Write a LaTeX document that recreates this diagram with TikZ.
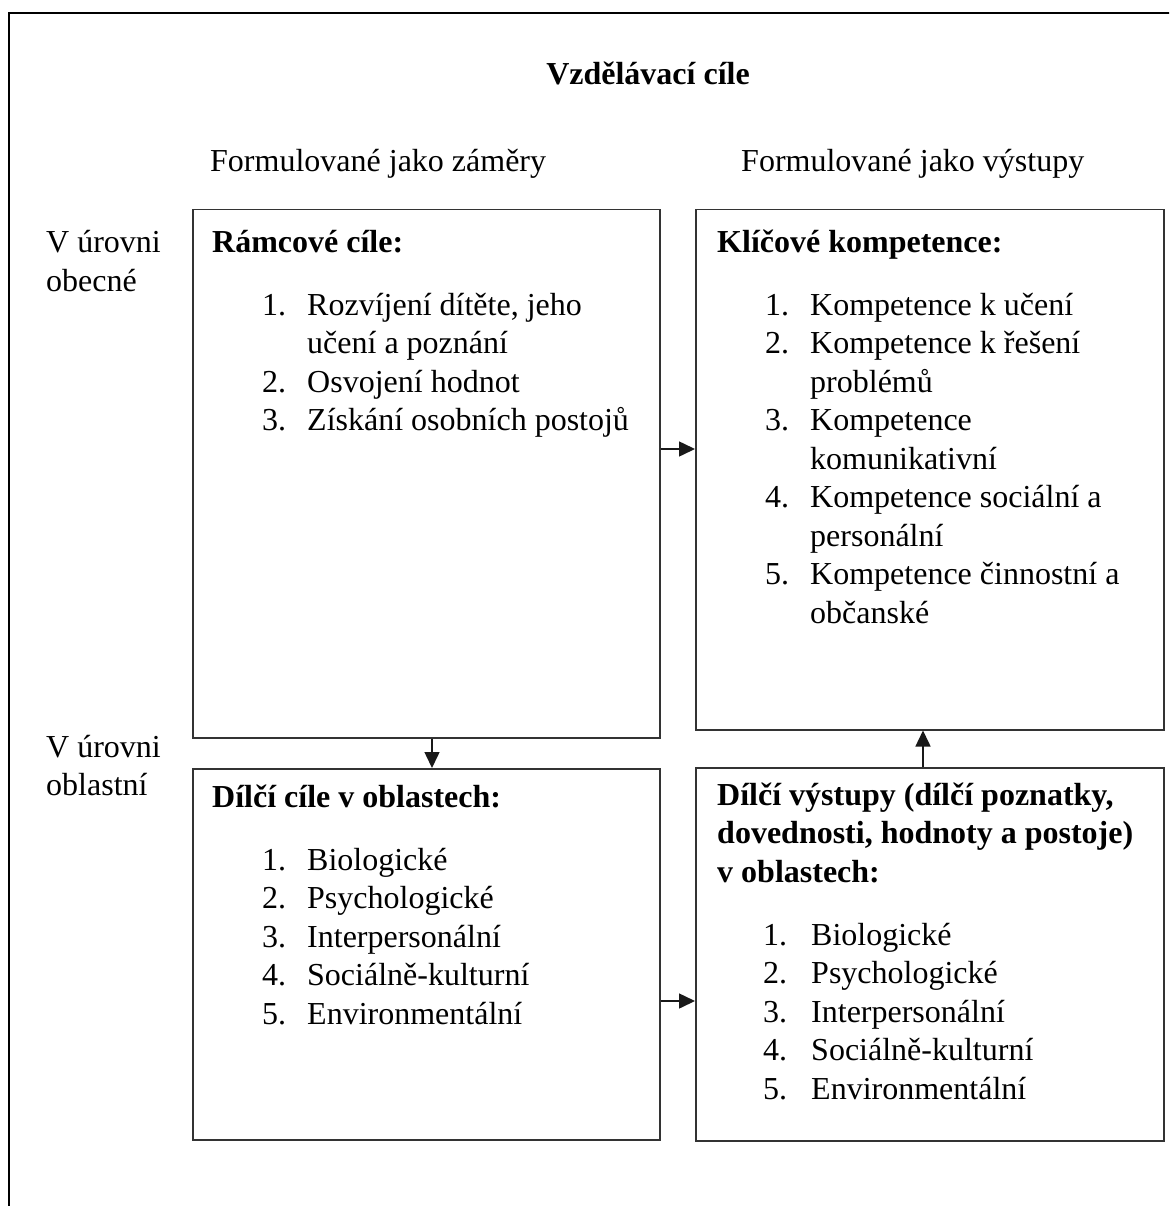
\documentclass[tikz,border=0pt]{standalone}
\usepackage{fontspec}
\setmainfont{Liberation Serif}
\usetikzlibrary{arrows.meta}
\begin{document}
\begin{tikzpicture}[x=1pt,y=-1pt,
  txt/.style={inner sep=0pt,anchor=base west,font=\fontsize{32}{38.5}\selectfont},
  btxt/.style={inner sep=0pt,anchor=base west,font=\fontsize{32}{38.5}\selectfont\bfseries},
  box/.style={draw=black!80,line width=1.5pt,inner sep=0pt,anchor=north west},
  arr/.style={-{Triangle[length=16pt,width=15pt]},line width=1.5pt,draw=black!90}]
\useasboundingbox (0,0) rectangle (1169,1206);
\clip (0,0) rectangle (1169,1206);
% outer frame
\draw[line width=2.5pt] (9,13) rectangle (1200,1240);
% boxes
\node[box,minimum width=467pt,minimum height=528pt] (b1) at (192,209) {};
\node[box,minimum width=468pt,minimum height=520pt] (b2) at (695,209) {};
\node[box,minimum width=467pt,minimum height=371pt] (b3) at (192,768) {};
\node[box,minimum width=468pt,minimum height=373pt] (b4) at (695,767) {};
% arrows
\draw[arr] (b1.east |- 0,449) -- (b2.west |- 0,449);
\draw[arr] (b1.south -| 432,0) -- (b3.north -| 432,0);
\draw[arr] (b4.north -| 923,0) -- (b2.south -| 923,0);
\draw[arr] (b3.east |- 0,1001) -- (b4.west |- 0,1001);
% headings
\node[btxt,anchor=base] (title) at (648,85) {Vzdělávací cíle};
\node[txt] (h1) at (210,172) {Formulované jako záměry};
\node[txt] (h2) at (741,172) {Formulované jako výstupy};
\node[txt] (l1a) at (46,252) {V úrovni};
\node[txt] (l1b) at (46,291) {obecné};
\node[txt] (l2a) at (46,757) {V úrovni};
\node[txt] (l2b) at (46,795) {oblastní};
% box 1
\node[btxt] (t1) at (212,252) {Rámcové cíle:};
\node[txt] (n11) at (262,315) {1.};
\node[txt] (i11) at (307,315) {Rozvíjení dítěte, jeho};
\node[txt] (i11b) at (307,353.5) {učení a poznání};
\node[txt] (n12) at (262,392) {2.};
\node[txt] (i12) at (307,392) {Osvojení hodnot};
\node[txt] (n13) at (262,430.5) {3.};
\node[txt] (i13) at (307,430.5) {Získání osobních postojů};
% box 2
\node[btxt] (t2) at (717,252) {Klíčové kompetence:};
\node[txt] (n21) at (765,315) {1.};
\node[txt] (i21) at (810,315) {Kompetence k učení};
\node[txt] (n22) at (765,353.5) {2.};
\node[txt] (i22) at (810,353.5) {Kompetence k řešení};
\node[txt] (i22b) at (810,392) {problémů};
\node[txt] (n23) at (765,430.5) {3.};
\node[txt] (i23) at (810,430.5) {Kompetence};
\node[txt] (i23b) at (810,469) {komunikativní};
\node[txt] (n24) at (765,507.5) {4.};
\node[txt] (i24) at (810,507.5) {Kompetence sociální a};
\node[txt] (i24b) at (810,546) {personální};
\node[txt] (n25) at (765,584.5) {5.};
\node[txt] (i25) at (810,584.5) {Kompetence činnostní a};
\node[txt] (i25b) at (810,623) {občanské};
% box 3
\node[btxt] (t3) at (212,807) {Dílčí cíle v oblastech:};
\node[txt] (n31) at (262,870) {1.};
\node[txt] (i31) at (307,870) {Biologické};
\node[txt] (n32) at (262,908.5) {2.};
\node[txt] (i32) at (307,908.5) {Psychologické};
\node[txt] (n33) at (262,947) {3.};
\node[txt] (i33) at (307,947) {Interpersonální};
\node[txt] (n34) at (262,985.5) {4.};
\node[txt] (i34) at (307,985.5) {Sociálně-kulturní};
\node[txt] (n35) at (262,1024) {5.};
\node[txt] (i35) at (307,1024) {Environmentální};
% box 4
\node[btxt] (t4a) at (717,805) {Dílčí výstupy (dílčí poznatky,};
\node[btxt] (t4b) at (717,843.5) {dovednosti, hodnoty a postoje)};
\node[btxt] (t4c) at (717,882) {v oblastech:};
\node[txt] (n41) at (763,945) {1.};
\node[txt] (i41) at (811,945) {Biologické};
\node[txt] (n42) at (763,983.5) {2.};
\node[txt] (i42) at (811,983.5) {Psychologické};
\node[txt] (n43) at (763,1022) {3.};
\node[txt] (i43) at (811,1022) {Interpersonální};
\node[txt] (n44) at (763,1060.5) {4.};
\node[txt] (i44) at (811,1060.5) {Sociálně-kulturní};
\node[txt] (n45) at (763,1099) {5.};
\node[txt] (i45) at (811,1099) {Environmentální};
\end{tikzpicture}
\end{document}
